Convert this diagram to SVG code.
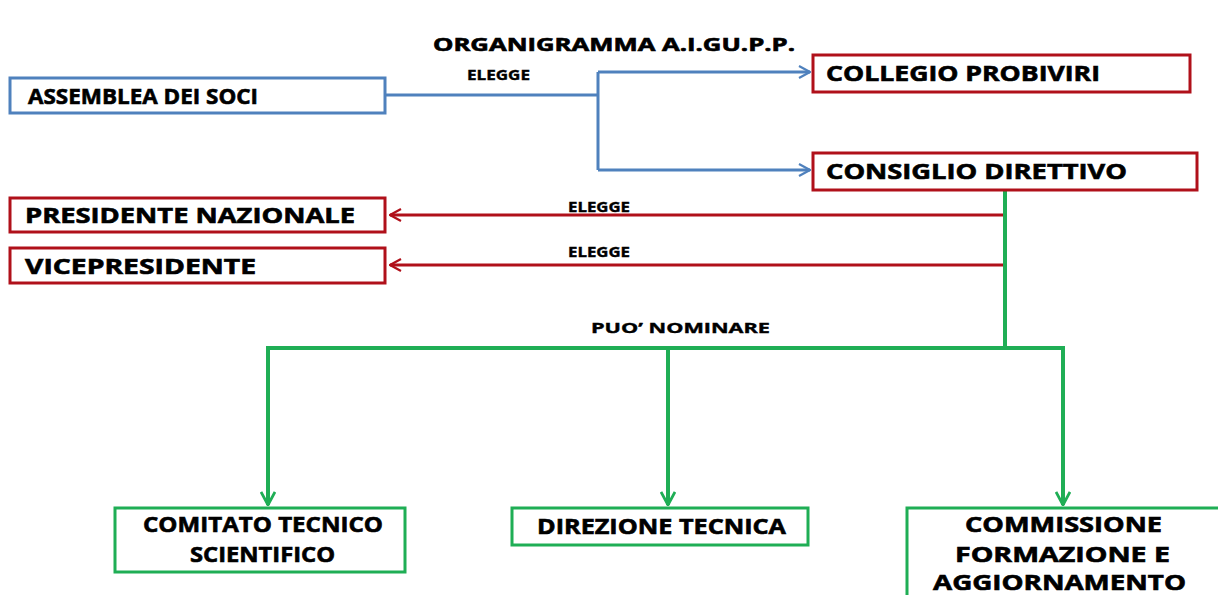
<svg xmlns="http://www.w3.org/2000/svg" width="1218" height="595" viewBox="0 0 1218 595">
<style>
text{font-family:"Open Sans","Liberation Sans",sans-serif;font-weight:bold;fill:#000;stroke:#000;stroke-width:0.6}
.t{font-size:21px}
.l{font-size:15px;stroke-width:0.4}
.bb{fill:#fff;stroke:#4f81bd;stroke-width:3}
.rb{fill:#fff;stroke:#b0101a;stroke-width:3}
.gb{fill:#fff;stroke:#1fae55;stroke-width:3}
.cb{fill:none;stroke:#4f81bd;stroke-width:3}
.cr{fill:none;stroke:#b0101a;stroke-width:3}
.cg{fill:none;stroke:#1fae55;stroke-width:4}
</style>
<defs>
<marker id="ab" viewBox="0 0 14 14" refX="13" refY="7" markerWidth="14" markerHeight="14" markerUnits="userSpaceOnUse" orient="auto"><path d="M2,1 L13,7 L2,13" fill="none" stroke="#4f81bd" stroke-width="2.2"/></marker>
<marker id="ar" viewBox="0 0 14 14" refX="13" refY="7" markerWidth="14" markerHeight="14" markerUnits="userSpaceOnUse" orient="auto"><path d="M2,1 L13,7 L2,13" fill="none" stroke="#b0101a" stroke-width="2.2"/></marker>
<marker id="ag" viewBox="0 0 16 16" refX="15" refY="8" markerWidth="16" markerHeight="16" markerUnits="userSpaceOnUse" orient="auto"><path d="M2,1 L15,8 L2,15" fill="none" stroke="#1fae55" stroke-width="2.8"/></marker>
</defs>
<rect width="1218" height="595" fill="#fff"/>
<text x="433" y="51" font-size="18" stroke-width="0.5" textLength="362" lengthAdjust="spacingAndGlyphs">ORGANIGRAMMA A.I.GU.P.P.</text>
<g id="connectors">
<path class="cb" d="M385,95 H598 M598,72 V170"/>
<path class="cb" d="M598,72 H810" marker-end="url(#ab)"/>
<path class="cb" d="M598,170 H810" marker-end="url(#ab)"/>
<path class="cr" d="M1005,215 H390" marker-end="url(#ar)"/>
<path class="cr" d="M1005,265 H390" marker-end="url(#ar)"/>
<path class="cg" d="M1005,191 V348 M266,348 H1065"/>
<path class="cg" d="M268,348 V505" marker-end="url(#ag)"/>
<path class="cg" d="M668,348 V505" marker-end="url(#ag)"/>
<path class="cg" d="M1063,348 V505" marker-end="url(#ag)"/>
<text class="l" x="467" y="80" textLength="63" lengthAdjust="spacingAndGlyphs">ELEGGE</text>
<text class="l" x="568" y="212" textLength="62" lengthAdjust="spacingAndGlyphs">ELEGGE</text>
<text class="l" x="568" y="257" textLength="62" lengthAdjust="spacingAndGlyphs">ELEGGE</text>
<text class="l" x="591" y="333" textLength="179" lengthAdjust="spacingAndGlyphs">PUO’ NOMINARE</text>
</g>
<g id="assemblea"><rect class="bb" x="10" y="78" width="375" height="35"/><text class="t" x="28" y="104" textLength="230" lengthAdjust="spacingAndGlyphs">ASSEMBLEA DEI SOCI</text></g>
<g id="collegio"><rect class="rb" x="813" y="55" width="377" height="37"/><text class="t" x="826" y="81" textLength="274" lengthAdjust="spacingAndGlyphs">COLLEGIO PROBIVIRI</text></g>
<g id="consiglio"><rect class="rb" x="813" y="153" width="384" height="37"/><text class="t" x="826" y="179" textLength="301" lengthAdjust="spacingAndGlyphs">CONSIGLIO DIRETTIVO</text></g>
<g id="presidente"><rect class="rb" x="10" y="198" width="375" height="34"/><text class="t" x="25" y="223" textLength="330" lengthAdjust="spacingAndGlyphs">PRESIDENTE NAZIONALE</text></g>
<g id="vicepresidente"><rect class="rb" x="10" y="248" width="375" height="35"/><text class="t" x="25" y="274" textLength="231" lengthAdjust="spacingAndGlyphs">VICEPRESIDENTE</text></g>
<g id="comitato"><rect class="gb" x="115" y="508" width="290" height="64"/><text class="t" x="143" y="532" textLength="240" lengthAdjust="spacingAndGlyphs">COMITATO TECNICO</text><text class="t" x="190" y="562" textLength="145" lengthAdjust="spacingAndGlyphs">SCIENTIFICO</text></g>
<g id="direzione"><rect class="gb" x="512" y="508" width="296" height="37"/><text class="t" x="537" y="534" textLength="249" lengthAdjust="spacingAndGlyphs">DIREZIONE TECNICA</text></g>
<g id="commissione"><rect class="gb" x="907" y="508" width="313" height="95"/><text class="t" x="965" y="532" textLength="197" lengthAdjust="spacingAndGlyphs">COMMISSIONE</text><text class="t" x="955" y="562" textLength="215" lengthAdjust="spacingAndGlyphs">FORMAZIONE E</text><text class="t" x="933" y="590" textLength="253" lengthAdjust="spacingAndGlyphs">AGGIORNAMENTO</text></g>
</svg>
